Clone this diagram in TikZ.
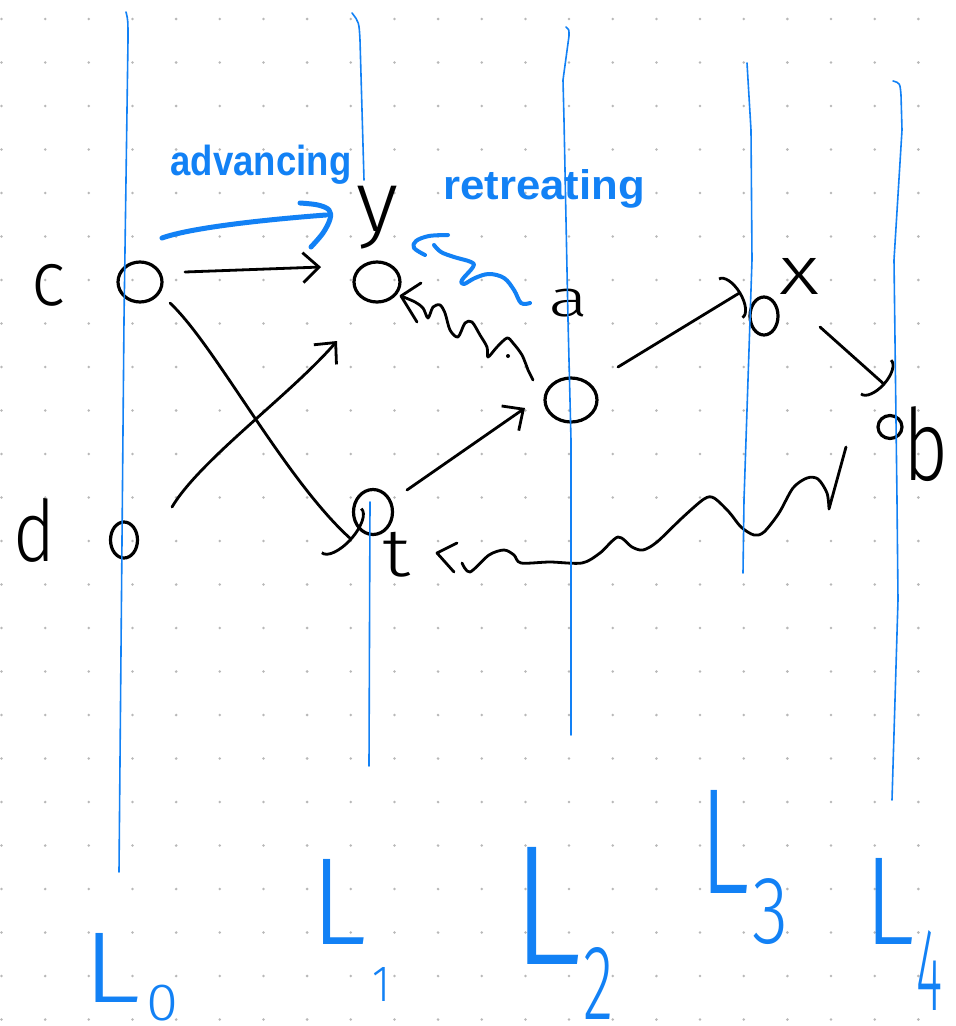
\documentclass[tikz,border=0pt]{standalone}
\usepackage{fontspec}
\setmainfont{Liberation Sans}
\newfontfamily\lt{Fira Sans Light}
\usetikzlibrary{arrows.meta,shapes.geometric,calc}
\definecolor{pen}{HTML}{1281F5}
\definecolor{ink}{HTML}{000000}
\definecolor{dotc}{HTML}{B8B8B8}
\newcommand\glyph[3]{\resizebox*{#1pt}{#2pt}{\lt #3}}
\begin{document}
\begin{tikzpicture}[x=1pt,y=-1pt,
  nd/.style={ellipse,draw=ink,line width=3.2pt,inner sep=0pt},
  lab/.style={inner sep=0pt,outer sep=0pt,text=ink},
  blab/.style={inner sep=0pt,outer sep=0pt,text=pen},
  conn/.style={draw=ink,line width=2.8pt,line cap=round,line join=round},
  sb/.style={-{Straight Barb[length=16pt,width=30pt]}},
  ab/.style={-{Arc Barb[length=12pt,width=48pt]}},
  lane/.style={draw=pen,line width=1.6pt,line cap=round,line join=round},
  hand/.style={draw=pen,line width=5pt,line cap=round,line join=round},
]
\useasboundingbox (0,0) rectangle (956,1026);
\fill[white] (0,0) rectangle (956,1026);
\foreach \i in {0,...,21}{\foreach \j in {0,...,23}{\fill[dotc] ({1.5+43.66*\i},{19+43.5*\j}) circle (1.4pt);}}

% nodes
\node[nd,minimum width=44pt,minimum height=40pt] (c) at (140,282) {};
\node[nd,minimum width=27pt,minimum height=36pt] (d) at (124,540) {};
\node[nd,minimum width=46pt,minimum height=40pt] (ny) at (377,282) {};
\node[nd,minimum width=52pt,minimum height=44pt] (m) at (571,400) {};
\node[nd,minimum width=28pt,minimum height=38pt] (nx) at (764,316) {};
\node[nd,minimum width=24pt,minimum height=23pt] (nb) at (890,427) {};
\node[nd,minimum width=39pt,minimum height=45pt] (nt) at (373,512) {};

% labels
\node[lab] (lc) at (49,285) {\glyph{34}{42}{c}};
\node[lab] (ld) at (35,530) {\glyph{42}{64}{d}};
\node[lab] (ly) at (377,218) {\glyph{42}{63}{y}};
\node[lab] (la) at (568,303) {\glyph{40}{28}{a}};
\node[lab] (lx) at (799,276) {\glyph{40}{36}{x}};
\node[lab] (lb) at (926,444) {\glyph{45}{75}{b}};
\node[lab] (lt) at (397,555) {\glyph{28}{45}{t}};

% connectors
\draw[conn,sb] ($(c)+(45,-10)$) -- ($(ny)+(-56,-15)$);
\draw[conn,-{Arc Barb[length=14pt,width=62pt]}] ($(c)+(30,21)$) .. controls (215,345) and (285,480) .. ($(nt)+(-21,28)$);
\draw[conn,sb] ($(d)+(48,-33)$) .. controls (200,460) and (290,395) .. ($(ny)+(-40,59)$);
\draw[conn,sb] ($(nt)+(34,-22)$) -- ($(m)+(-46,8)$);
\draw[conn,ab] ($(m)+(47,-33)$) -- ($(nx)+(-23,-24)$);
\draw[conn,ab] ($(nx)+(56,11)$) -- ($(nb)+(-5,-42)$);

% wavy m -> y
\coordinate (w1) at ($(m)+(-38,-20)$);
\coordinate (w1e) at ($(ny)+(24,14)$);
\draw[conn] (w1) -- plot[smooth,tension=0.5] coordinates {(528,370)(522,355)(513,343)(507,338)(497,347)(488,357)(487,347)(480,335)(472,322)(465,323)(458,337)(450,330)(445,313)(440,305)(433,307)(428,318)(423,308)(415,302)(w1e)};
\draw[conn] (421,283) -- (401,296) -- (417,322);
\fill[ink] (508,356) circle (2pt);

% wavy b -> t
\coordinate (w2) at ($(nb)+(-44,20)$);
\coordinate (w2e) at ($(nt)+(89,51)$);
\draw[conn] (w2) -- plot[smooth,tension=0.5] coordinates {(829,509)(827,493)(818,479)(807,478)(793,488)(779,513)(764,532)(754,535)(741,527)(729,512)(714,498)(704,499)(682,518)(657,542)(643,550)(632,547)(618,537)(600,553)(582,563)(550,562)(521,563)(514,555)(504,550)(489,555)(470,572)(w2e)};
\draw[conn] (457,543) -- (437,553) -- (454,572);

% blue annotations
\draw[hand] (162,238) .. controls (190,228) and (260,220) .. (326,215);
\draw[hand] plot[smooth,tension=0.6] coordinates {(300,203)(318,205)(329,210)(330,219)(323,233)(311,247)};
\node[blab,anchor=base,font=\fontsize{42}{42}\selectfont\bfseries] (adv) at (261,175) {\scalebox{0.87}[1]{advancing}};
\node[blab,anchor=base,font=\fontsize{46}{46}\selectfont\bfseries] (ret) at (544,199) {\scalebox{0.95}[0.9]{retreating}};
\draw[hand,line width=4pt] plot[smooth,tension=0.6] coordinates {(530,303)(521,303)(514,290)(504,278)(489,274)(475,278)(464,284)(462,280)(473,267)(471,262)(454,257)(441,252)(434,245)};
\draw[hand,line width=4pt] plot[smooth,tension=0.6] coordinates {(448,235)(429,236)(416,241)(414,248)(425,255)};

% lanes
\draw[lane] (126,12) .. controls (128,20) .. (128,40) -- (124,320) -- (119,872);
\draw[lane] (352,13) .. controls (359,22) .. (360,40) -- (364,180);
\draw[lane] (370,502) -- (369,766);
\draw[lane] (566,27) .. controls (569,29) .. (569,36) -- (563,80) -- (564,120) -- (568,320) -- (571,440) -- (571,735);
\draw[lane] (747,63) -- (751,130) -- (752,260) -- (744,500) -- (743,573);
\draw[lane] (893,81) .. controls (900,83) .. (901,95) -- (902,130) -- (894,260) -- (897,500) -- (898,600) -- (892,800);

% lane labels
\node[blab] (L0) at (112,968) {\glyph{58}{69}{L}};
\node[blab] (s0) at (162,1003) {\glyph{32}{36}{0}};
\node[blab] (L1) at (339,902) {\glyph{56}{85}{L}};
\node[blab] (s1) at (381,984) {\glyph{18}{34}{1}};
\node[blab] (L2) at (547,906) {\glyph{70}{117}{L}};
\node[blab] (s2) at (598,983) {\glyph{30}{72}{2}};
\node[blab] (L3) at (724,842) {\glyph{50}{103}{L}};
\node[blab] (s3) at (770,912) {\glyph{36}{66}{3}};
\node[blab] (L4) at (889,901) {\glyph{50}{86}{L}};
\node[blab] (s4) at (929,970) {\glyph{26}{80}{4}};
\end{tikzpicture}
\end{document}
